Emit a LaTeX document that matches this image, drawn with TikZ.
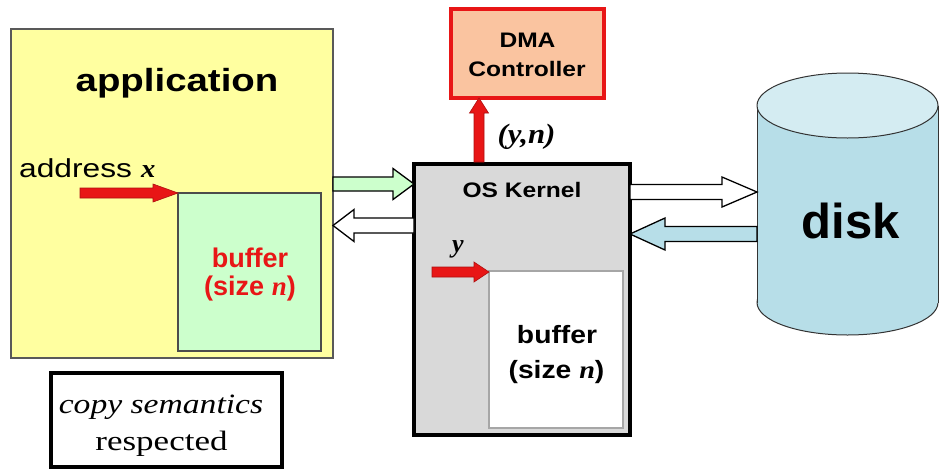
\documentclass[tikz,border=0pt]{standalone}
\usepackage{fontspec}
\usepackage{graphicx}
\setmainfont{Liberation Serif}
\setsansfont{Liberation Sans}
\usetikzlibrary{calc}

\definecolor{appyellow}{RGB}{255,255,160}
\definecolor{bufgreen}{RGB}{204,255,204}
\definecolor{kernelgray}{RGB}{217,217,217}
\definecolor{dmapeach}{RGB}{250,196,160}
\definecolor{alarmred}{RGB}{232,22,22}
\definecolor{diskblue}{RGB}{183,222,232}
\definecolor{disktop}{RGB}{212,236,242}

% horizontally widened text
\newcommand\stretchx[2][1.17]{\scalebox{#1}[1]{#2}}
\newcommand\varit[1]{{\rmfamily\bfseries\itshape #1}}
% block arrow, horizontal: style, tail, tip, shaft half width, head half width, head length (signed)
\newcommand\harrow[6]{%
  \draw[#1] ($(#2)+(0,#4)$) -- ($(#3)+({-(#6)},#4)$) -- ($(#3)+({-(#6)},#5)$) -- (#3)
    -- ($(#3)+({-(#6)},{-(#5)})$) -- ($(#3)+({-(#6)},{-(#4)})$) -- ($(#2)+(0,{-(#4)})$) -- cycle;}
% block arrow pointing up: style, tail, tip, shaft half width, head half width, head length
\newcommand\blockup[6]{%
  \draw[#1] ($(#2)+({-(#4)},0)$) -- ($(#3)+({-(#4)},#6)$) -- ($(#3)+({-(#5)},#6)$) -- (#3)
    -- ($(#3)+(#5,#6)$) -- ($(#3)+(#4,#6)$) -- ($(#2)+(#4,0)$) -- cycle;}

\begin{document}
\begin{tikzpicture}[x=1pt,y=-1pt,
  box/.style={inner sep=0pt, outer sep=0pt, anchor=north west},
  lbl/.style={inner sep=0pt, font=\sffamily\bfseries},
  fat/.style={draw=black, line width=1.3pt, line join=miter},
  pointer/.style={fill=alarmred, draw=alarmred!75!black, line width=0.6pt, line join=miter}]
\useasboundingbox (0,0) rectangle (940,469);

% application address space
\node[box, draw=gray!70!black, line width=1.2pt, fill=appyellow,
      minimum width=322pt, minimum height=329pt] (app) at (11,29) {};
\node[lbl, anchor=base, font=\sffamily\bfseries\fontsize{32}{36}\selectfont] (apptitle) at (177,91)
  {\stretchx[1.2]{application}};
\node[box, draw=gray!60!black, line width=1.2pt, fill=bufgreen,
      minimum width=143pt, minimum height=158pt] (appbuf) at (178,193) {};
\node[lbl, anchor=base, text=alarmred, font=\sffamily\bfseries\fontsize{27}{30}\selectfont]
  (appbuf1) at (250,267) {buffer};
\node[lbl, anchor=base, text=alarmred, font=\sffamily\bfseries\fontsize{27}{30}\selectfont]
  (appbuf2) at (250,295) {(size \varit{n})};
\node[inner sep=0pt, anchor=base west, font=\sffamily\fontsize{26}{30}\selectfont] (addr) at (19,177)
  {\stretchx[1.22]{address}\hspace{9pt}\stretchx[1.1]{\varit{x}}};
\coordinate (addrtail) at (80,193);
\harrow{pointer}{addrtail}{appbuf.north west |- 0,193}{5}{9}{25}

% kernel
\node[box, draw=black, line width=4pt, fill=kernelgray,
      minimum width=216pt, minimum height=271pt] (kernel) at (414,164) {};
\node[lbl, anchor=base, font=\sffamily\bfseries\fontsize{21}{24}\selectfont] (ktitle) at (522,197)
  {\stretchx{OS Kernel}};
\node[box, draw=gray!70, line width=1.2pt, fill=white,
      minimum width=134pt, minimum height=157pt] (kbuf) at (489,271) {};
\node[lbl, anchor=base, font=\sffamily\bfseries\fontsize{25}{28}\selectfont] (kbuf1) at (557,343)
  {\stretchx[1.13]{buffer}};
\node[lbl, anchor=base, font=\sffamily\bfseries\fontsize{25}{28}\selectfont] (kbuf2) at (556.5,378)
  {\stretchx[1.13]{(size \varit{n})}};
\node[inner sep=0pt, anchor=base, font=\fontsize{26}{30}\selectfont] (ylabel) at (458,252) {\varit{y}};
\coordinate (ytail) at (432,272);
\harrow{pointer}{ytail}{kbuf.north west |- 0,272}{5}{10}{15}

% DMA controller
\node[box, draw=alarmred, line width=4pt, fill=dmapeach,
      minimum width=153pt, minimum height=89pt] (dma) at (451,9) {};
\node[lbl, anchor=base, font=\sffamily\bfseries\fontsize{21}{24}\selectfont] (dma1) at (527.5,47)
  {\stretchx{DMA}};
\node[lbl, anchor=base, font=\sffamily\bfseries\fontsize{21}{24}\selectfont] (dma2) at (527,76)
  {\stretchx{Controller}};
\coordinate (dmafoot) at (479,162);
\blockup{pointer}{dmafoot}{dma.south -| dmafoot}{5}{9.5}{15}
\node[inner sep=0pt, anchor=base, font=\fontsize{28}{30}\selectfont] (yn) at (526.5,143)
  {\stretchx[1.1]{\varit{(y,n)}}};

% disk
\fill[diskblue, draw=black!80, line width=1pt] (847.5,302.5) ellipse [x radius=90.5, y radius=32.5];
\fill[diskblue] (757,105.5) rectangle (938,302.5);
\draw[black!80, line width=1pt] (757,105.5) -- (757,302.5) (938,105.5) -- (938,302.5);
\fill[disktop, draw=black!80, line width=1pt] (847.5,105.5) ellipse [x radius=90.5, y radius=32.5];
\node[lbl, anchor=base, font=\sffamily\bfseries\fontsize{49}{52}\selectfont] (disk) at (850.8,238) {disk};
\coordinate (diskside) at (757,213);

% transfers between application, kernel and disk
\harrow{fat, fill=bufgreen}{app.east |- 0,184}{kernel.west |- 0,184}{7}{15.5}{21}
\harrow{fat, fill=white}{kernel.west |- 0,225.5}{app.east |- 0,225.5}{7.5}{16}{-21}
\harrow{fat, fill=white}{kernel.east |- 0,192}{diskside |- 0,192}{7.5}{15}{35}
\harrow{fat, fill=diskblue}{diskside |- 0,234}{kernel.east |- 0,234}{7.5}{16}{-35}

% note
\node[box, draw=black, line width=4pt, fill=white,
      minimum width=231pt, minimum height=94pt] (note) at (51,373) {};
\node[inner sep=0pt, anchor=base, font=\fontsize{28}{30}\selectfont] (note1) at (161,413)
  {\stretchx[1.2]{\itshape copy semantics}};
\node[inner sep=0pt, anchor=base, font=\fontsize{28}{30}\selectfont] (note2) at (161.5,450)
  {\stretchx[1.25]{respected}};
\end{tikzpicture}
\end{document}
